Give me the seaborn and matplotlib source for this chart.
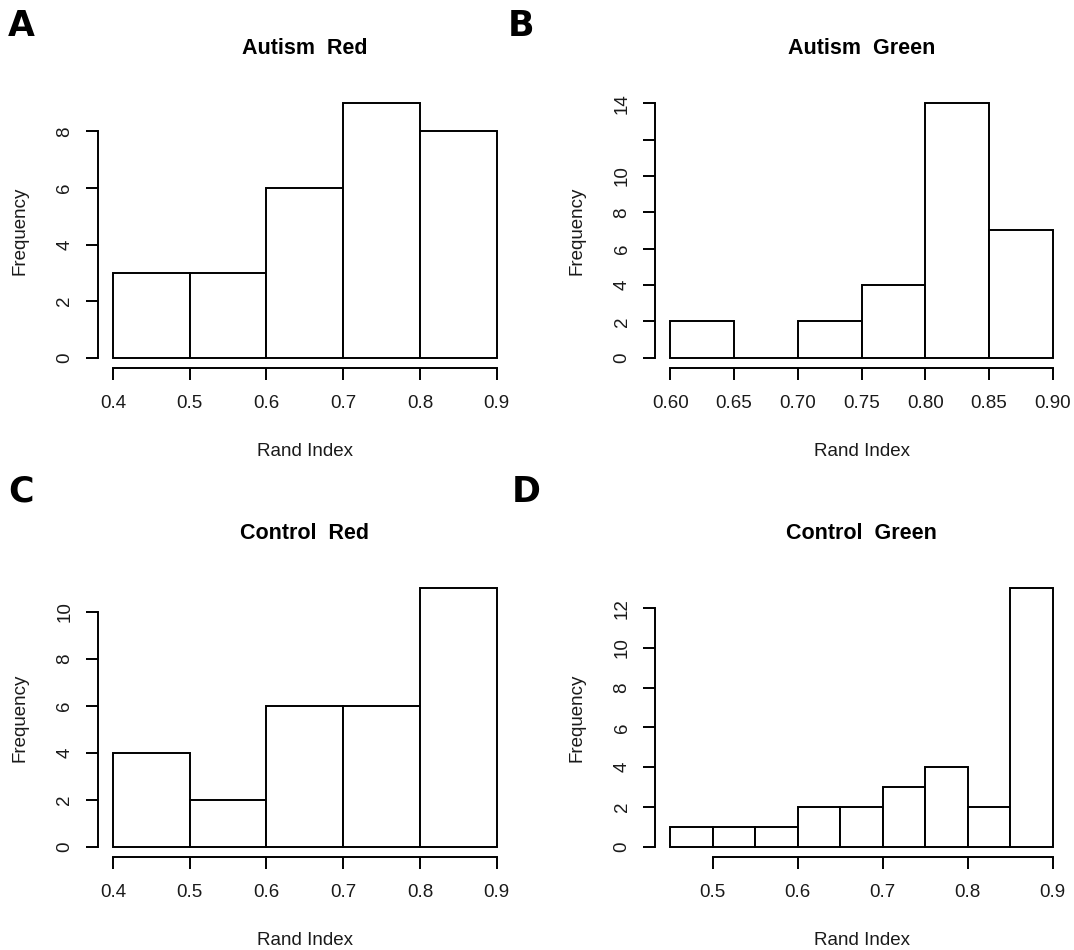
from matplotlib import pyplot as plt
import seaborn as sns
import pandas as pd
import numpy as np

sns.set_style("white")
plt.rcParams['font.family'] = ['Liberation Sans', 'DejaVu Sans']

# histogram bins and counts
autism_red_edges = [0.4, 0.5, 0.6, 0.7, 0.8, 0.9]
autism_red_counts = [3, 3, 6, 9, 8]
autism_green_edges = [0.60, 0.65, 0.70, 0.75, 0.80, 0.85, 0.90]
autism_green_counts = [2, 0, 2, 4, 14, 7]
control_red_edges = [0.4, 0.5, 0.6, 0.7, 0.8, 0.9]
control_red_counts = [4, 2, 6, 6, 11]
control_green_edges = [0.45, 0.50, 0.55, 0.60, 0.65, 0.70, 0.75, 0.80, 0.85, 0.90]
control_green_counts = [1, 1, 1, 2, 2, 3, 4, 2, 13]

titles = ["Autism  Red", "Autism  Green", "Control  Red", "Control  Green"]
letters = ["A", "B", "C", "D"]

xticks_list = [
    [0.4, 0.5, 0.6, 0.7, 0.8, 0.9],
    [0.60, 0.65, 0.70, 0.75, 0.80, 0.85, 0.90],
    [0.4, 0.5, 0.6, 0.7, 0.8, 0.9],
    [0.5, 0.6, 0.7, 0.8, 0.9],
]
xticklabels_list = [
    ["0.4", "0.5", "0.6", "0.7", "0.8", "0.9"],
    ["0.60", "0.65", "0.70", "0.75", "0.80", "0.85", "0.90"],
    ["0.4", "0.5", "0.6", "0.7", "0.8", "0.9"],
    ["0.5", "0.6", "0.7", "0.8", "0.9"],
]
yticks_list = [
    [0, 2, 4, 6, 8],
    [0, 2, 4, 6, 8, 10, 12, 14],
    [0, 2, 4, 6, 8, 10],
    [0, 2, 4, 6, 8, 10, 12],
]
yticklabels_list = [
    ["0", "2", "4", "6", "8"],
    ["0", "2", "4", "6", "8", "10", "", "14"],
    ["0", "2", "4", "6", "8", "10"],
    ["0", "2", "4", "6", "8", "10", "12"],
]

panels = [
    (autism_red_edges, autism_red_counts),
    (autism_green_edges, autism_green_counts),
    (control_red_edges, control_red_counts),
    (control_green_edges, control_green_counts),
]

W, H = 1074, 950
# plot regions in pixels: (left, top, right, bottom)
regions = [
    (97.6, 93, 512, 368),
    (655, 93, 1068, 368),
    (97.6, 578, 512, 857),
    (655, 578, 1068, 857),
]
letter_pos = [(8, 36), (508, 36), (8, 502), (512, 502)]

fig = plt.figure(figsize=(W / 100, H / 100), dpi=100)

for i, (edges, counts) in enumerate(panels):
    l, t, r, b = regions[i]
    ax = fig.add_axes([l / W, 1 - b / H, (r - l) / W, (b - t) / H])
    e = np.array(edges)
    df = pd.DataFrame({"mid": (e[:-1] + e[1:]) / 2, "n": counts})
    sns.histplot(data=df, x="mid", weights="n", bins=list(edges), ax=ax,
                 color="white", edgecolor="black", linewidth=1.4, alpha=1)

    # R-style axis ranges (4% padding each side)
    xr = edges[-1] - edges[0]
    ax.set_xlim(edges[0] - 0.04 * xr, edges[-1] + 0.04 * xr)
    ymax = max(counts)
    ax.set_ylim(-0.04 * ymax, ymax * 1.04)

    ax.set_xticks(xticks_list[i])
    ax.set_xticklabels(xticklabels_list[i])
    ax.set_yticks(yticks_list[i])
    ax.set_yticklabels(yticklabels_list[i], rotation=90, va="center")

    for s in ["top", "right"]:
        ax.spines[s].set_visible(False)
    for s in ["left", "bottom"]:
        ax.spines[s].set_linewidth(1.4)
        ax.spines[s].set_color("black")
    ax.spines["left"].set_bounds(yticks_list[i][0], yticks_list[i][-1])
    ax.spines["bottom"].set_bounds(xticks_list[i][0], xticks_list[i][-1])

    ax.tick_params(axis="both", direction="out", length=8.6, width=1.4,
                   color="black", labelsize=13.5, labelcolor="#1a1a1a",
                   left=True, bottom=True)
    ax.tick_params(axis="x", pad=11)
    ax.tick_params(axis="y", pad=9)

    ax.set_xlabel("Rand Index", fontsize=13.5, color="#1a1a1a", labelpad=22)
    ax.set_ylabel("Frequency", fontsize=13.5, color="#1a1a1a", labelpad=20)
    ax.set_title(titles[i], fontsize=15.5, fontweight="bold", color="black", pad=28)

    lx, ly = letter_pos[i]
    fig.text(lx / W, 1 - ly / H, letters[i], fontsize=25, fontweight="heavy",
             family="DejaVu Sans", color="black", ha="left", va="baseline")

fig.savefig("out.png", dpi=100, facecolor="white")
